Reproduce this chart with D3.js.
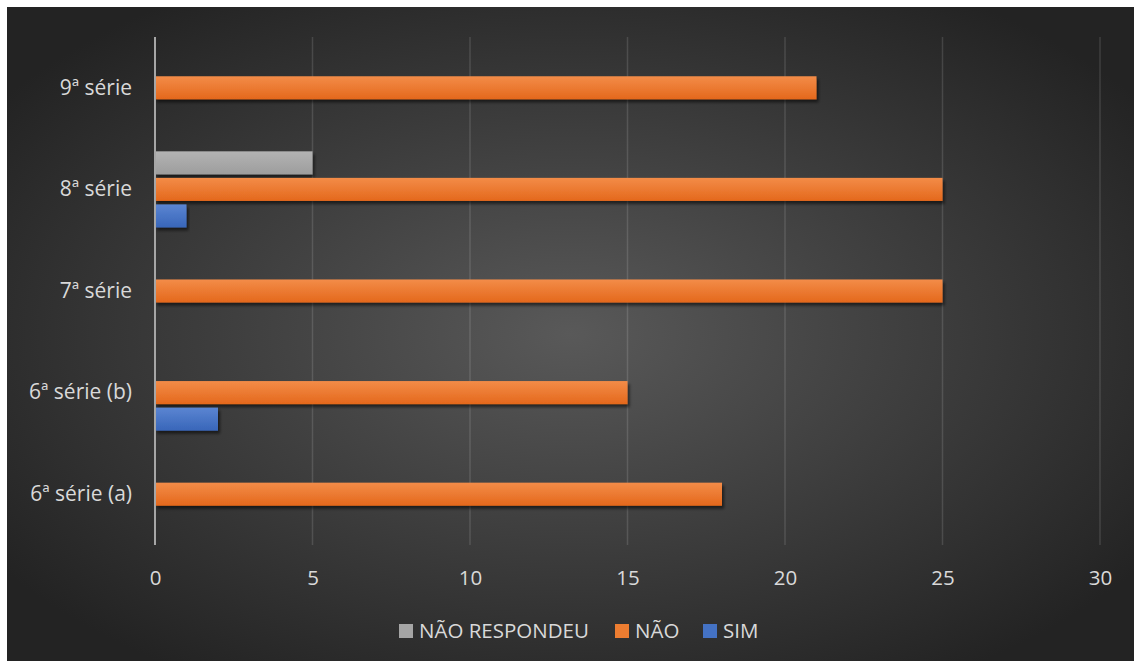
<!DOCTYPE html>
<html>
<head>
<meta charset="utf-8">
<script src="https://cdn.jsdelivr.net/npm/d3@7"></script>
<style>
  body { margin: 0; background: #fff; }
  svg { display: block; }
  text { font-family: "Open Sans", "DejaVu Sans", sans-serif; }
</style>
</head>
<body>
<div class="chart"></div>
<script>
// Data
const categories = ['6ª série (a)', '6ª série (b)', '7ª série', '8ª série', '9ª série'];
const seriesNames = ['NÃO RESPONDEU', 'NÃO', 'SIM'];
const naoRespondeu = [0, 0, 0, 5, 0];
const nao = [18, 15, 25, 25, 21];
const sim = [0, 2, 0, 1, 0];
const xTicks = [0, 5, 10, 15, 20, 25, 30];

const seriesValues = { 'NÃO RESPONDEU': naoRespondeu, 'NÃO': nao, 'SIM': sim };
const colors = {
    'NÃO RESPONDEU': ['#b3b3b3', '#9d9d9d', '#a5a5a5'],
    'NÃO': ['#f38c48', '#e4681c', '#ed7d31'],
    'SIM': ['#5b85d2', '#3866b9', '#4472c4']
};

const W = 1134, H = 661;
const plot = { left: 155, right: 1100, top: 37, bottom: 545 };

const svg = d3.select('.chart')
    .append('svg')
    .attr('width', W)
    .attr('height', H);

const defs = svg.append('defs');

// background radial gradient
const bg = defs.append('radialGradient')
    .attr('id', 'bg')
    .attr('cx', '50%').attr('cy', '50%').attr('r', '62%');
bg.append('stop').attr('offset', '0%').attr('stop-color', '#595959');
bg.append('stop').attr('offset', '100%').attr('stop-color', '#232323');

// bar gradients
seriesNames.forEach((s, i) => {
    const g = defs.append('linearGradient')
        .attr('id', 'grad' + i)
        .attr('x1', 0).attr('y1', 0).attr('x2', 0).attr('y2', 1);
    g.append('stop').attr('offset', '0%').attr('stop-color', colors[s][0]);
    g.append('stop').attr('offset', '100%').attr('stop-color', colors[s][1]);
});

// shadow under bars
const filter = defs.append('filter')
    .attr('id', 'shadow')
    .attr('x', '-5%').attr('y', '-30%')
    .attr('width', '115%').attr('height', '170%');
filter.append('feGaussianBlur')
    .attr('in', 'SourceAlpha')
    .attr('stdDeviation', 1.6)
    .attr('result', 'blur');
filter.append('feOffset')
    .attr('in', 'blur')
    .attr('dx', 2)
    .attr('dy', 3)
    .attr('result', 'off');
filter.append('feComponentTransfer')
    .attr('in', 'off')
    .attr('result', 'offA')
    .append('feFuncA').attr('type', 'linear').attr('slope', 0.55);
const merge = filter.append('feMerge');
merge.append('feMergeNode').attr('in', 'offA');
merge.append('feMergeNode').attr('in', 'SourceGraphic');

svg.append('rect')
    .attr('x', 7).attr('y', 7)
    .attr('width', W - 7).attr('height', H - 7)
    .attr('fill', 'url(#bg)');

// Scales
const x = d3.scaleLinear()
    .domain([0, 30])
    .range([plot.left, plot.right]);

const y = d3.scaleBand()
    .domain(categories.slice().reverse())
    .range([plot.top, plot.bottom]);

const inner = d3.scaleBand()
    .domain(seriesNames)
    .range([0, y.bandwidth()])
    .paddingInner(0.13)
    .paddingOuter(0.48);

// Gridlines
svg.append('g')
    .selectAll('line')
    .data(xTicks.slice(1))
    .join('line')
    .attr('x1', d => x(d)).attr('x2', d => x(d))
    .attr('y1', plot.top).attr('y2', plot.bottom)
    .attr('stroke', 'rgba(255,255,255,0.13)')
    .attr('stroke-width', 1.5);

// Bars
const rows = [];
categories.forEach((c, ci) => {
    seriesNames.forEach((s, si) => {
        const v = seriesValues[s][ci];
        if (v > 0) rows.push({ cat: c, series: s, si: si, value: v });
    });
});

svg.append('g')
    .selectAll('rect')
    .data(rows)
    .join('rect')
    .attr('x', x(0))
    .attr('y', d => y(d.cat) + inner(d.series))
    .attr('width', d => x(d.value) - x(0))
    .attr('height', inner.bandwidth())
    .attr('fill', d => 'url(#grad' + d.si + ')')
    .style('filter', 'url(#shadow)');

// Zero axis line
svg.append('line')
    .attr('x1', x(0)).attr('x2', x(0))
    .attr('y1', plot.top).attr('y2', plot.bottom)
    .attr('stroke', '#a6a6a6')
    .attr('stroke-width', 2);

// X axis labels
const xAxis = svg.append('g')
    .attr('transform', `translate(0, ${plot.bottom + 33})`)
    .call(d3.axisBottom(x).tickValues(xTicks).tickSize(0).tickPadding(0));
xAxis.select('.domain').remove();
xAxis.selectAll('text')
    .attr('fill', '#d9d9d9')
    .attr('font-size', 20.5)
    .attr('dy', '0.32em');

// Y axis labels
const yAxis = svg.append('g')
    .attr('transform', `translate(${plot.left - 23}, 0)`)
    .call(d3.axisLeft(y).tickSize(0).tickPadding(0));
yAxis.select('.domain').remove();
yAxis.selectAll('text')
    .attr('fill', '#d9d9d9')
    .attr('font-size', 21);

// Legend
const legendItems = [
    { name: 'NÃO RESPONDEU', x: 399 },
    { name: 'NÃO', x: 615 },
    { name: 'SIM', x: 703 }
];
const legend = svg.append('g').attr('transform', 'translate(0, 631)');
const li = legend.selectAll('g')
    .data(legendItems)
    .join('g')
    .attr('transform', d => `translate(${d.x}, 0)`);
li.append('rect')
    .attr('x', 0).attr('y', -7)
    .attr('width', 14).attr('height', 14)
    .attr('fill', d => colors[d.name][2]);
li.append('text')
    .attr('x', 20)
    .attr('dy', '0.35em')
    .attr('fill', '#d9d9d9')
    .attr('font-size', 20.5)
    .text(d => d.name);
</script>
</body>
</html>
